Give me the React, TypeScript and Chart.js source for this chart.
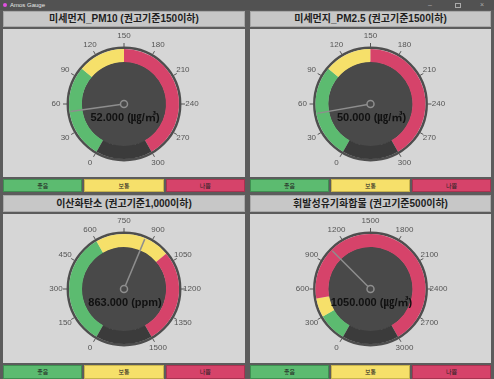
import React, { useEffect, useRef } from "react";
import { Chart, registerables } from "chart.js";
Chart.register(...registerables);

const titles = [
  "미세먼지_PM10 (권고기준150이하)",
  "미세먼지_PM2.5 (권고기준150이하)",
  "이산화탄소 (권고기준1,000이하)",
  "휘발성유기화합물 (권고기준500이하)",
];
const maxValues = [300, 300, 1500, 3000];
const goodLimits = [100, 100, 600, 300];
const normalLimits = [150, 150, 1000, 500];
const currentValues = [52, 50, 863, 1050];
const units = ["㎍/㎥", "㎍/㎥", "ppm", "㎍/㎥"];
const ticksPM = [0, 30, 60, 90, 120, 150, 180, 210, 240, 270, 300];
const ticksCO2 = [0, 150, 300, 450, 600, 750, 900, 1050, 1200, 1350, 1500];
const ticksVOC = [0, 300, 600, 900, 1200, 1500, 1800, 2100, 2400, 2700, 3000];
const tickSets = [ticksPM, ticksPM, ticksCO2, ticksVOC];
const legendLabels = ["좋음", "보통", "나쁨"];

const GREEN = "#5cbb70";
const YELLOW = "#f6e06a";
const RED = "#d6436a";
const GAP = "#3b3b3b";
const INNER = "#494949";

function makeGaugePlugin(i: number) {
  return {
    id: "gauge" + i,
    beforeDatasetsDraw(chart: any) {
      const a: any = chart.getDatasetMeta(0).data[0];
      const ctx = chart.ctx;
      ctx.save();
      ctx.beginPath();
      ctx.arc(a.x, a.y, a.outerRadius + 1.2, 0, Math.PI * 2);
      ctx.strokeStyle = "#4e4e4e";
      ctx.lineWidth = 2.5;
      ctx.stroke();
      ctx.beginPath();
      ctx.arc(a.x, a.y, a.innerRadius + 0.5, 0, Math.PI * 2);
      ctx.fillStyle = INNER;
      ctx.fill();
      ctx.restore();
    },
    afterDatasetsDraw(chart: any) {
      const meta = chart.getDatasetMeta(0);
      const a: any = meta.data[0];
      const c: any = meta.data[2];
      const a0 = a.startAngle;
      const a1 = c.endAngle;
      const max = maxValues[i];
      const angleOf = (v: number) => a0 + ((a1 - a0) * v) / max;
      const ctx = chart.ctx;
      const cx = a.x, cy = a.y, R = a.outerRadius;
      ctx.save();
      // ticks
      ctx.strokeStyle = "#555";
      ctx.lineWidth = 1;
      ctx.fillStyle = "#555";
      ctx.font = '8px "Liberation Sans", "DejaVu Sans"';
      ctx.textAlign = "center";
      ctx.textBaseline = "middle";
      for (const t of tickSets[i]) {
        const th = angleOf(t);
        const cs = Math.cos(th), sn = Math.sin(th);
        ctx.beginPath();
        ctx.moveTo(cx + (R + 2) * cs, cy + (R + 2) * sn);
        ctx.lineTo(cx + (R + 6) * cs, cy + (R + 6) * sn);
        ctx.stroke();
        ctx.fillText(String(t), cx + (R + 13) * cs, cy + (R + 13) * sn);
      }
      // needle
      const v = currentValues[i];
      const th = angleOf(v);
      ctx.strokeStyle = "#8e8e8e";
      ctx.lineWidth = 1.5;
      ctx.beginPath();
      ctx.moveTo(cx, cy);
      ctx.lineTo(cx + (R - 1) * Math.cos(th), cy + (R - 1) * Math.sin(th));
      ctx.stroke();
      ctx.beginPath();
      ctx.arc(cx, cy, 3.5, 0, Math.PI * 2);
      ctx.fillStyle = INNER;
      ctx.fill();
      ctx.stroke();
      // value text
      ctx.fillStyle = "#111";
      ctx.font = 'bold 11px "Liberation Sans", "Noto Sans CJK KR"';
      ctx.fillText(v.toFixed(3) + " (" + units[i] + ")", cx + 1, cy + 14);
      ctx.restore();
    },
  };
}

function Gauge({ i, w, h }: { i: number; w: number; h: number }) {
  const ref = useRef<HTMLCanvasElement>(null);
  useEffect(() => {
    if (!ref.current) return;
    const max = maxValues[i];
    const chart = new Chart(ref.current, {
      type: "doughnut",
      data: {
        labels: ["good", "normal", "bad", "gap"],
        datasets: [
          {
            data: [goodLimits[i], normalLimits[i] - goodLimits[i], max - normalLimits[i], max / 5],
            backgroundColor: [GREEN, YELLOW, RED, GAP],
            borderWidth: 0,
          } as any,
        ],
      },
      options: {
        animation: false,
        responsive: false,
        events: [],
        rotation: -150,
        circumference: 360,
        cutout: 42,
        radius: 55,
        layout: { padding: { top: 20, bottom: h - 130, left: 0, right: 0 } },
        plugins: { legend: { display: false }, tooltip: { enabled: false } },
      } as any,
      plugins: [makeGaugePlugin(i)],
    });
    return () => chart.destroy();
  }, [i, w, h]);
  return <canvas ref={ref} width={w} height={h} style={{ position: "absolute", left: 0, top: 0, width: w, height: h }} />;
}

const legendColors = [GREEN, YELLOW, RED];
const legendBorders = ["#3f8f51", "#c8b44c", "#a83250"];

function Panel({ i, x, y, w, titleH, chartH, legendH }: any) {
  const chartTop = y + titleH + 2;
  const legendTop = chartTop + chartH + 2;
  const cellW = (w - 4) / 3;
  return (
    <>
      <div
        style={{
          position: "absolute", left: x, top: y, width: w, height: titleH, boxSizing: "border-box",
          background: "#c7c7c7", border: "1px solid #a9a9a9",
          font: 'bold 10px "Liberation Sans", "Noto Sans CJK KR"', color: "#1e1e1e",
          textAlign: "center", lineHeight: titleH - 2 + "px", whiteSpace: "nowrap",
        }}
      >
        {titles[i]}
      </div>
      <div style={{ position: "absolute", left: x, top: chartTop, width: w, height: chartH, background: "#d6d6d6" }}>
        <Gauge i={i} w={w} h={chartH} />
      </div>
      {legendLabels.map((l, k) => (
        <div
          key={k}
          style={{
            position: "absolute", left: x + k * (cellW + 2), top: legendTop, width: cellW, height: legendH,
            boxSizing: "border-box", background: legendColors[k], border: "1px solid " + legendBorders[k],
            font: '6px "Noto Sans CJK KR"', color: "#222", textAlign: "center", lineHeight: legendH - 2 + "px",
          }}
        >
          {l}
        </div>
      ))}
    </>
  );
}

export default function App() {
  return (
    <div style={{ position: "absolute", left: 0, top: 0, width: 494, height: 379, background: "#5c5c5c", overflow: "hidden" }}>
      <div style={{ position: "absolute", left: 0, top: 0, width: 494, height: 10, background: "#525252" }} />
      <div style={{ position: "absolute", left: 3, top: 3, width: 4, height: 4, borderRadius: 2, background: "#e050e0" }} />
      <div style={{ position: "absolute", left: 10, top: 1, font: '6px "Liberation Sans"', color: "#e8e8e8", lineHeight: "8px" }}>Amos Gauge</div>
      <div style={{ position: "absolute", left: 428, top: 0, font: '7px "Liberation Sans"', color: "#aaa", lineHeight: "9px", letterSpacing: "0px" }}>–</div>
      <div style={{ position: "absolute", left: 455, top: 3, width: 4, height: 3, border: "1px solid #aaa" }} />
      <div style={{ position: "absolute", left: 480, top: 0, font: '7px "Liberation Sans"', color: "#aaa", lineHeight: "9px" }}>×</div>
      <Panel i={0} x={3} y={11} w={242} titleH={16} chartH={148} legendH={13} />
      <Panel i={1} x={250} y={11} w={241} titleH={16} chartH={148} legendH={13} />
      <Panel i={2} x={3} y={195} w={242} titleH={17} chartH={149} legendH={14} />
      <Panel i={3} x={250} y={195} w={241} titleH={17} chartH={149} legendH={14} />
    </div>
  );
}
